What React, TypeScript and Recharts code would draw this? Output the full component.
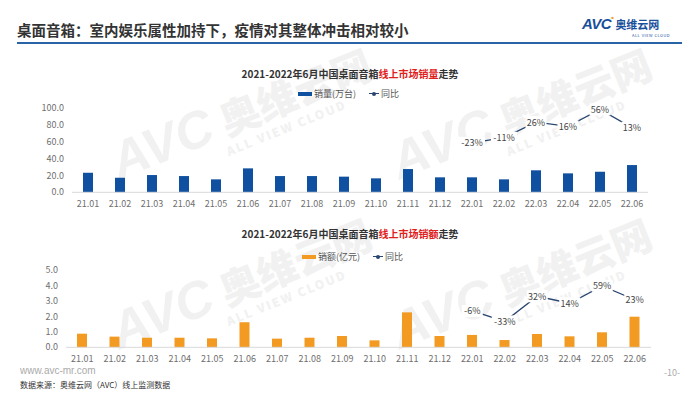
import React from "react";
import { ComposedChart, Bar, Line, XAxis, YAxis } from "recharts";

const months = [
  "21.01", "21.02", "21.03", "21.04", "21.05", "21.06", "21.07", "21.08", "21.09",
  "21.10", "21.11", "21.12", "22.01", "22.02", "22.03", "22.04", "22.05", "22.06",
];

// 销量（万台）
const volume = [23.1, 17.2, 20.4, 19.2, 15.3, 28.3, 19.2, 19.2, 18.5, 16.5, 27.5, 17.7, 17.7, 15.3, 26.0, 22.4, 24.3, 32.2];
const volumeYoY = [null, null, null, null, null, null, null, null, null, null, null, null, -23, -11, 26, 16, 56, 13];

// 销额（亿元）
const revenue = [0.88, 0.69, 0.62, 0.62, 0.58, 1.62, 0.56, 0.62, 0.73, 0.45, 2.26, 0.73, 0.8, 0.47, 0.86, 0.71, 0.97, 1.98];
const revenueYoY = [null, null, null, null, null, null, null, null, null, null, null, null, -6, -33, 32, 14, 59, 23];

const volumeTicks = [0, 20, 40, 60, 80, 100];
const revenueTicks = [0, 1, 2, 3, 4, 5];

const volumeData = months.map((m, i) => ({ month: m, value: volume[i], yoy: volumeYoY[i] }));
const revenueData = months.map((m, i) => ({ month: m, value: revenue[i], yoy: revenueYoY[i] }));

const BLUE = "#0f50a0";
const ORANGE = "#f29a21";
const LINE = "#2a4670";
const CJK = '"Noto Sans CJK SC", "Noto Sans", sans-serif';

const tickStyle = { fontSize: 9, fill: "#6f6f6f", fontFamily: CJK };

// 同比 label sits on the point with a white box, so the line breaks around it
const renderYoYLabel = (props: any) => {
  const { x, y, value } = props;
  if (value == null || x == null || y == null) return null;
  const text = `${value}%`;
  const w = text.length * 5 + 6;
  return (
    <g>
      <rect x={x - w / 2} y={y - 6} width={w} height={12} fill="#fff" />
      <text
        x={x}
        y={y}
        textAnchor="middle"
        dominantBaseline="central"
        fontSize={9}
        fill="#444"
        fontFamily={CJK}
      >
        {text}
      </text>
    </g>
  );
};

interface LegendProps {
  top: number;
  left: number;
  color: string;
  name: string;
}

const LegendRow: React.FC<LegendProps> = ({ top, left, color, name }) => (
  <div style={{ position: "absolute", top, left, display: "flex", alignItems: "center", fontSize: 9, color: "#555", whiteSpace: "nowrap" }}>
    <span style={{ display: "inline-block", width: 14, height: 4, background: color, marginRight: 2 }} />
    <span>{name}</span>
    <span style={{ position: "relative", display: "inline-block", width: 10, height: 1, background: LINE, marginLeft: 13, marginRight: 2 }}>
      <span style={{ position: "absolute", left: 3, top: -1.5, width: 4, height: 4, borderRadius: 2, background: LINE }} />
    </span>
    <span>同比</span>
  </div>
);

const ChartTitle: React.FC<{ top: number; key1: string }> = ({ top, key1 }) => (
  <div style={{ position: "absolute", top, left: 0, width: 700, textAlign: "center", fontSize: 10, fontWeight: 700, color: "#333" }}>
    2021-2022年6月中国桌面音箱<span style={{ color: "#e0201a" }}>线上市场{key1}</span>走势
  </div>
);

const Watermark: React.FC<{ top: number; left: number }> = ({ top, left }) => (
  <div style={{ position: "absolute", top, left, transform: "rotate(-22deg)", color: "#f1f1f1", fontWeight: 900, whiteSpace: "nowrap", lineHeight: 1 }}>
    <span style={{ fontSize: 52, fontStyle: "italic", fontFamily: "Arial, sans-serif" }}>AVC</span>
    <span style={{ fontSize: 40, marginLeft: 10 }}>奥维云网</span>
    <div style={{ fontSize: 12, marginLeft: 110, letterSpacing: 2 }}>ALL VIEW CLOUD</div>
  </div>
);

const App: React.FC = () => {
  return (
    <div style={{ position: "absolute", top: 0, left: 0, width: 700, height: 394, background: "#fff", overflow: "hidden", fontFamily: CJK }}>
      <Watermark top={85} left={105} />
      <Watermark top={85} left={385} />
      <Watermark top={255} left={105} />
      <Watermark top={255} left={385} />

      <div style={{ position: "absolute", top: 20, left: 17, fontSize: 14.5, fontWeight: 700, color: "#333", lineHeight: "20px", whiteSpace: "nowrap" }}>
        桌面音箱：室内娱乐属性加持下，疫情对其整体冲击相对较小
      </div>
      <div style={{ position: "absolute", top: 42, left: 17, width: 665, height: 2, background: "#2a64a8" }} />

      <div style={{ position: "absolute", top: 14, left: 582, whiteSpace: "nowrap", color: "#1a4f9c", lineHeight: 1 }}>
        <span style={{ fontSize: 15, fontWeight: 900, fontStyle: "italic", fontFamily: "Arial, sans-serif", letterSpacing: -0.5 }}>
          AVC<span style={{ color: "#f29a21", fontSize: 8, verticalAlign: "top" }}>•</span>
        </span>
        <span style={{ fontSize: 11, fontWeight: 700, marginLeft: 2 }}>奥维云网</span>
        <div style={{ fontSize: 4, marginLeft: 50, marginTop: 2, letterSpacing: 0.5 }}>ALL VIEW CLOUD</div>
      </div>

      <ChartTitle top={66} key1="销量" />
      <LegendRow top={87} left={298} color={BLUE} name="销量(万台)" />

      <div style={{ position: "absolute", top: 0, left: 0 }}>
        <ComposedChart width={700} height={215} data={volumeData} margin={{ top: 107.7, right: 52, bottom: 2.7, left: 12 }}>
          <XAxis dataKey="month" interval={0} height={20} tickLine={false} axisLine={{ stroke: "#d9d9d9" }} tick={tickStyle} />
          <YAxis
            yAxisId="left"
            width={60}
            domain={[0, 100]}
            ticks={volumeTicks}
            tickFormatter={(v: number) => v.toFixed(1)}
            tickLine={false}
            axisLine={false}
            tick={tickStyle}
          />
          <YAxis yAxisId="yoy" orientation="right" hide domain={[-140, 60]} allowDataOverflow />
          <Bar yAxisId="left" dataKey="value" fill={BLUE} barSize={10} isAnimationActive={false} />
          <Line
            yAxisId="yoy"
            dataKey="yoy"
            stroke={LINE}
            strokeWidth={1.3}
            dot={false}
            activeDot={false}
            label={renderYoYLabel}
            isAnimationActive={false}
          />
        </ComposedChart>
      </div>

      <ChartTitle top={226} key1="销额" />
      <LegendRow top={250} left={302} color={ORANGE} name="销额(亿元)" />

      <div style={{ position: "absolute", top: 215, left: 0 }}>
        <ComposedChart width={700} height={150} data={revenueData} margin={{ top: 55, right: 49, bottom: 1.7, left: 6 }}>
          <XAxis dataKey="month" interval={0} height={16} tickLine={false} axisLine={{ stroke: "#d9d9d9" }} tick={tickStyle} />
          <YAxis
            yAxisId="left"
            width={60}
            domain={[0, 5]}
            ticks={revenueTicks}
            tickFormatter={(v: number) => v.toFixed(1)}
            tickLine={false}
            axisLine={false}
            tick={tickStyle}
          />
          <YAxis yAxisId="yoy" orientation="right" hide domain={[-100, 100]} allowDataOverflow />
          <Bar yAxisId="left" dataKey="value" fill={ORANGE} barSize={10} isAnimationActive={false} />
          <Line
            yAxisId="yoy"
            dataKey="yoy"
            stroke={LINE}
            strokeWidth={1.3}
            dot={false}
            activeDot={false}
            label={renderYoYLabel}
            isAnimationActive={false}
          />
        </ComposedChart>
      </div>

      <div style={{ position: "absolute", top: 365, left: 20, fontSize: 10, color: "#aaa", fontFamily: '"Liberation Sans", Arial, sans-serif' }}>
        www.avc-mr.com
      </div>
      <div style={{ position: "absolute", top: 379, left: 20, fontSize: 8, color: "#333", whiteSpace: "nowrap" }}>
        数据来源：奥维云网（AVC）线上监测数据
      </div>
      <div style={{ position: "absolute", top: 366, left: 664, fontSize: 9, color: "#aaa" }}>-10-</div>
    </div>
  );
};

export default App;
